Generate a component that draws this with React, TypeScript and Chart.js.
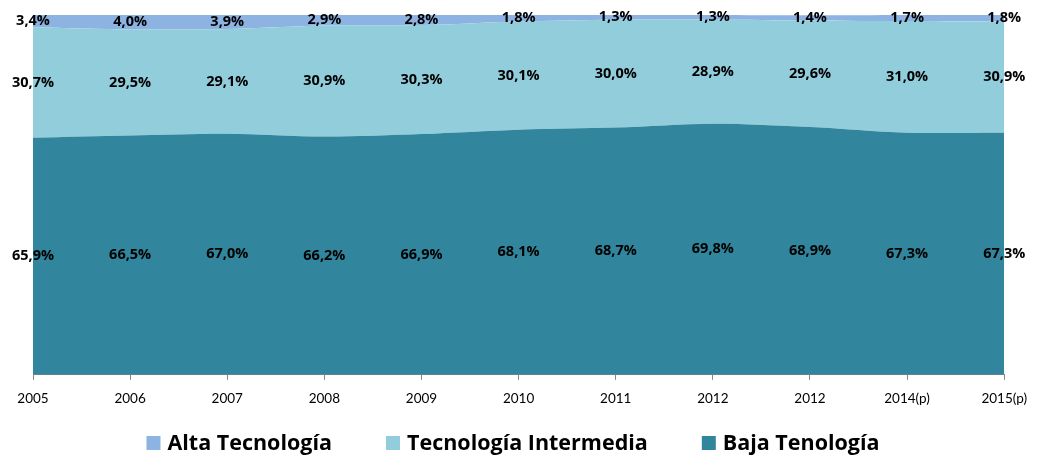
import React, { useEffect, useRef } from "react";
import { Chart, registerables } from "chart.js";

Chart.register(...registerables);

const years = ["2005", "2006", "2007", "2008", "2009", "2010", "2011", "2012", "2012", "2014(p)", "2015(p)"];
const alta = [3.4, 4.0, 3.9, 2.9, 2.8, 1.8, 1.3, 1.3, 1.4, 1.7, 1.8];
const intermedia = [30.7, 29.5, 29.1, 30.9, 30.3, 30.1, 30.0, 28.9, 29.6, 31.0, 30.9];
const baja = [65.9, 66.5, 67.0, 66.2, 66.9, 68.1, 68.7, 69.8, 68.9, 67.3, 67.3];

const TICK_FONT = "Lato, 'Open Sans', sans-serif";
const BOLD_FONT = "'Open Sans', Lato, sans-serif";

const labelPlugin = {
  id: "bandLabels",
  afterDatasetsDraw(chart: any) {
    const ctx = chart.ctx;
    const bottom = chart.scales.y.getPixelForValue(0);
    ctx.save();
    ctx.font = `bold 14.5px ${BOLD_FONT}`;
    ctx.fillStyle = "#000";
    ctx.textAlign = "center";
    ctx.textBaseline = "middle";
    chart.data.datasets.forEach((ds: any, i: number) => {
      const meta = chart.getDatasetMeta(i);
      const prev = i > 0 ? chart.getDatasetMeta(i - 1) : null;
      meta.data.forEach((pt: any, j: number) => {
        const top = pt.y;
        const bot = prev ? prev.data[j].y : bottom;
        const v = ds.data[j] as number;
        ctx.fillText(v.toFixed(1).replace(".", ",") + "%", pt.x, (top + bot) / 2);
      });
    });
    ctx.restore();
  },
};

const legendPlugin = {
  id: "customLegend",
  afterDraw(chart: any) {
    const ctx = chart.ctx;
    ctx.save();
    ctx.font = `bold 21.5px ${BOLD_FONT}`;
    const items = chart.data.datasets
      .map((ds: any) => ({ text: ds.label as string, color: ds.backgroundColor as string }))
      .reverse();
    const box = 14;
    const boxGap = 7;
    const itemGap = 54;
    let total = 0;
    items.forEach((it: any, k: number) => {
      total += box + boxGap + ctx.measureText(it.text).width + (k < items.length - 1 ? itemGap : 0);
    });
    let x = chart.width / 2 - 6 - total / 2;
    const cy = 443;
    ctx.textBaseline = "middle";
    ctx.textAlign = "left";
    items.forEach((it: any) => {
      ctx.fillStyle = it.color;
      ctx.fillRect(x, cy - box / 2, box, box);
      x += box + boxGap;
      ctx.fillStyle = "#000";
      ctx.fillText(it.text, x, cy + 1);
      x += ctx.measureText(it.text).width + itemGap;
    });
    ctx.restore();
  },
};

export default function App() {
  const ref = useRef<HTMLCanvasElement>(null);
  useEffect(() => {
    if (!ref.current) return;
    const chart = new Chart(ref.current, {
      type: "line",
      data: {
        labels: years,
        datasets: [
          {
            label: "Baja Tenología",
            data: baja,
            backgroundColor: "#31859C",
            borderWidth: 0,
            pointRadius: 0,
            fill: "origin",
            tension: 0.3,
          },
          {
            label: "Tecnología Intermedia",
            data: intermedia,
            backgroundColor: "#92CDDC",
            borderWidth: 0,
            pointRadius: 0,
            fill: "-1",
            tension: 0.3,
          },
          {
            label: "Alta Tecnología",
            data: alta,
            backgroundColor: "#8DB3E2",
            borderWidth: 0,
            pointRadius: 0,
            fill: "-1",
            tension: 0.3,
          },
        ],
      },
      options: {
        responsive: false,
        animation: false,
        layout: { padding: { top: 15, left: 33, right: 25, bottom: 40 } },
        plugins: {
          legend: { display: false },
          tooltip: { enabled: false },
        },
        scales: {
          x: {
            offset: false,
            grid: { drawOnChartArea: false, drawTicks: true, tickLength: 5, color: "#868686" },
            border: { color: "#868686" },
            ticks: { color: "#000", font: { family: TICK_FONT, size: 13.5 }, padding: 11, maxRotation: 0, autoSkip: false },
          },
          y: {
            display: false,
            stacked: true,
            min: 0,
            max: 100,
          },
        },
      },
      plugins: [labelPlugin, legendPlugin],
    });
    return () => chart.destroy();
  }, []);
  return (
    <div style={{ position: "fixed", left: 0, top: 0, width: 1038, height: 458, background: "#fff" }}>
      <canvas ref={ref} width={1038} height={458} />
    </div>
  );
}
